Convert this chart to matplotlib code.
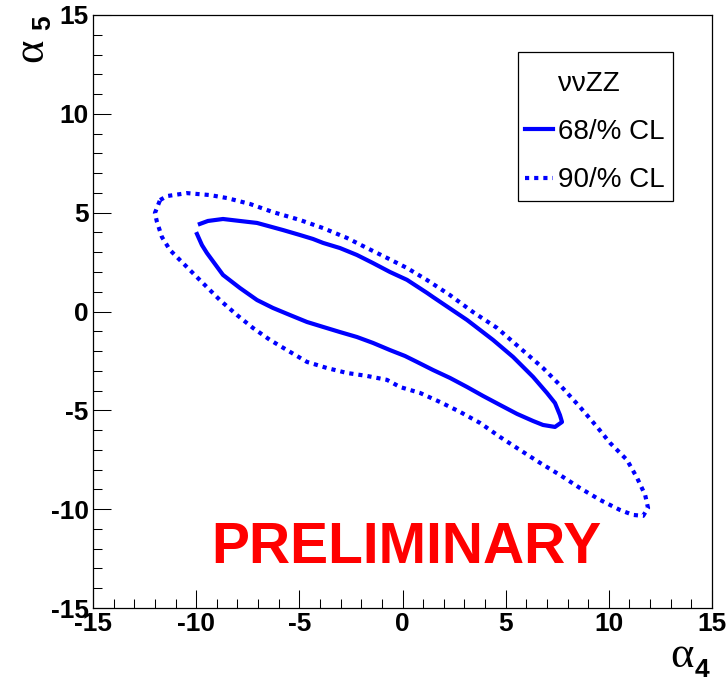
import numpy as np
import matplotlib.pyplot as plt
from matplotlib.lines import Line2D
from matplotlib.patches import Rectangle
from matplotlib.ticker import MultipleLocator

plt.rcParams['font.family'] = ['Liberation Sans', 'DejaVu Sans']
plt.rcParams['axes.unicode_minus'] = False

# 68% CL contour in (alpha4, alpha5), left open near (-10, 4)
cl68_a4 = [-9.82, -9.43, -8.70, -7.88, -7.05, -5.79, -4.97, -4.34, -3.85, -3.03,
           -2.21, -1.43, -0.61, 0.22, 1.19, 1.48, 3.13, 4.39, 5.36, 6.33,
           7.00, 7.39, 7.63, 7.73, 7.39, 6.81, 6.33, 5.55, 4.73, 3.90,
           3.13, 2.30, 1.48, 0.70, 0.12, -0.61, -1.43, -2.21, -3.03, -3.85,
           -4.63, -5.45, -6.28, -7.05, -7.88, -8.70, -9.48, -9.72, -9.96]
cl68_a5 = [4.43, 4.58, 4.68, 4.58, 4.48, 4.12, 3.87, 3.67, 3.47, 3.21,
           2.86, 2.45, 2.00, 1.60, 0.94, 0.73, -0.43, -1.44, -2.30, -3.31,
           -4.12, -4.63, -5.24, -5.59, -5.84, -5.74, -5.54, -5.18, -4.73, -4.27,
           -3.82, -3.36, -2.96, -2.55, -2.25, -1.95, -1.59, -1.29, -1.04, -0.78,
           -0.53, -0.18, 0.18, 0.58, 1.19, 1.85, 2.96, 3.36, 3.92]

# 90% CL contour, closed
cl90_a4 = [-11.75, -11.41, -10.45, -9.33, -8.51, -7.39, -6.28, -4.97, -3.85, -2.69,
           -1.72, -0.75, 0.22, 1.19, 2.30, 3.42, 4.58, 5.70, 6.81, 7.63,
           8.60, 9.43, 10.06, 10.88, 11.37, 11.76, 11.90, 11.66, 11.17, 10.54,
           9.57, 8.60, 7.63, 6.67, 5.70, 4.73, 3.76, 2.79, 1.82, 0.85,
           -0.12, -0.75, -1.72, -2.69, -3.66, -4.63, -5.60, -6.42, -7.25, -8.02,
           -8.85, -9.82, -10.64, -11.27, -11.66, -11.90, -12.00, -11.75]
cl90_a5 = [5.64, 5.84, 5.99, 5.89, 5.74, 5.44, 5.03, 4.63, 4.22, 3.72,
           3.21, 2.71, 2.20, 1.59, 0.83, -0.03, -0.83, -1.85, -2.86, -3.72,
           -4.83, -5.84, -6.65, -7.51, -8.42, -9.28, -9.94, -10.34, -10.29, -10.04,
           -9.53, -8.93, -8.27, -7.66, -7.01, -6.35, -5.64, -5.08, -4.58, -4.12,
           -3.82, -3.46, -3.26, -3.11, -2.86, -2.55, -1.95, -1.44, -0.83, -0.18,
           0.58, 1.59, 2.45, 3.11, 3.77, 4.53, 4.98, 5.64]

W, H = 727, 682
fig = plt.figure(figsize=(W / 100, H / 100), dpi=100)
ax = fig.add_axes([93 / W, 1 - 608 / H, (712 - 93) / W, (608 - 15) / H])

l68, = ax.plot(cl68_a4, cl68_a5, color='blue', lw=3)
l90, = ax.plot(cl90_a4, cl90_a5, color='blue', lw=3,
               linestyle=(0, (1, 1.2)), dash_capstyle='butt')

ax.set_xlim(-15, 15)
ax.set_ylim(-15, 15)
ax.set_xticks(np.arange(-15, 16, 5))
ax.set_yticks(np.arange(-15, 16, 5))
ax.xaxis.set_minor_locator(MultipleLocator(1))
ax.yaxis.set_minor_locator(MultipleLocator(1))
ax.tick_params(which='both', direction='in', top=False, right=False,
               width=0.75, labelsize=19, pad=3)
ax.tick_params(which='major', length=13)
ax.tick_params(which='minor', length=6.5)
for lab in ax.get_xticklabels() + ax.get_yticklabels():
    lab.set_fontweight('bold')
for sp in ax.spines.values():
    sp.set_linewidth(0.9)

# axis titles, ROOT style
fig.text(670 / W, 1 - 667 / H, 'α', family='Liberation Serif', fontsize=32,
         ha='left', va='baseline')
fig.text(695 / W, 1 - 677 / H, '4', fontsize=19, fontweight='bold',
         ha='left', va='baseline')
fig.text(42 / W, 1 - 62 / H, 'α', family='Liberation Serif', fontsize=32,
         ha='left', va='baseline', rotation=90, rotation_mode='anchor')
fig.text(50 / W, 1 - 30 / H, '5', fontsize=19, fontweight='bold',
         ha='left', va='baseline', rotation=90, rotation_mode='anchor')

ax.text(0.2, -12.72, 'PRELIMINARY', color='red', fontsize=41,
        fontweight='bold', ha='center', va='baseline')

# legend box drawn separately so its size matches the ROOT pave
ax.add_patch(Rectangle((518 / W, 1 - 201 / H), (673 - 518) / W,
                       (201 - 52) / H, transform=fig.transFigure,
                       facecolor='white', edgecolor='black', lw=0.9,
                       clip_on=False, zorder=4))
blank = Line2D([], [], color='none')
leg = ax.legend([blank, l68, l90], ['ννZZ', '68/% CL', '90/% CL'],
                loc='upper left', bbox_to_anchor=(518 / W, 1 - 64 / H),
                bbox_transform=fig.transFigure, fontsize=20, frameon=False,
                borderpad=0.25, labelspacing=0.8, handlelength=1.0,
                handletextpad=0.2, borderaxespad=0)
leg.set_zorder(5)

fig.savefig('out.png', dpi=100)
